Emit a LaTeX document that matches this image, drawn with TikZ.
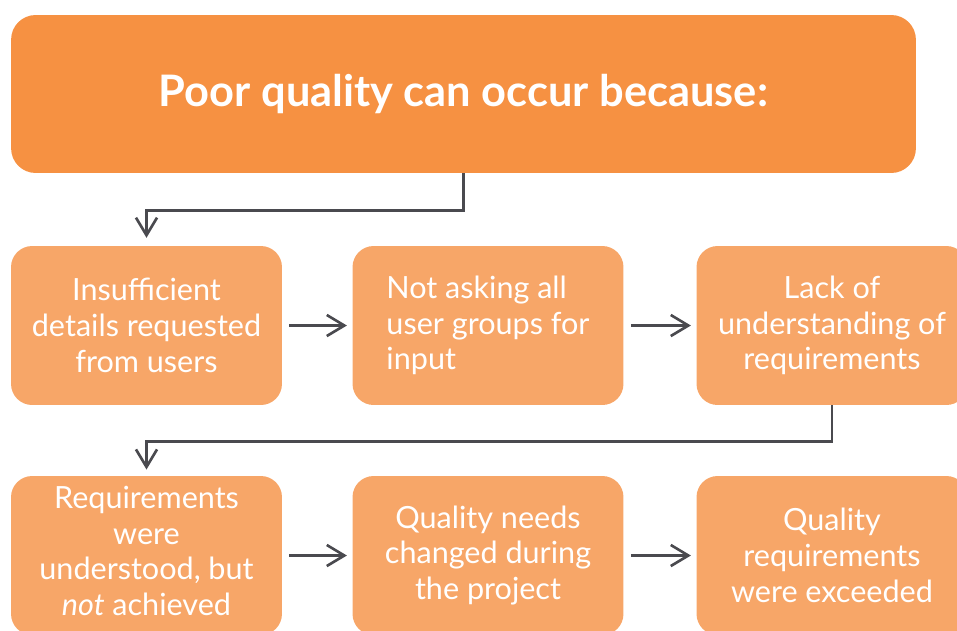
\documentclass[tikz,border=0pt]{standalone}
\usepackage{fontspec}
\setmainfont{Lato}
\usetikzlibrary{arrows.meta, positioning}
\definecolor{titleOrange}{RGB}{246,145,66}
\definecolor{boxOrange}{RGB}{247,166,104}
\definecolor{lineGrey}{RGB}{74,74,79}

\begin{document}
\begin{tikzpicture}[x=0.02cm, y=-0.02cm,
    causeBox/.style={rectangle, rounded corners=12pt, fill=boxOrange, text=white, inner sep=0pt,
        minimum width=5.42cm, minimum height=3.18cm, font=\fontsize{17.4}{20.4}\selectfont},
    flowArrow/.style={draw=lineGrey, line width=1.5pt, -{Straight Barb[length=10pt, width=12pt]}}]
\useasboundingbox (0,0) rectangle (957,630);
\clip (0,0) rectangle (957,630);

\node[rectangle, rounded corners=14pt, fill=titleOrange, text=white, minimum width=18.1cm, minimum height=3.16cm,
    font=\bfseries\fontsize{24.7}{29}\selectfont] (topBox) at (463.5,94) {Poor quality can occur because:};

\node[causeBox, align=center] (insuffBox) at (146.5,325.5) {Insufficient\\details requested\\from users};
\node[causeBox, align=left] (notAskBox) at (488,325.5) {Not asking all\\user groups for\\input};
\node[causeBox, align=center] (lackBox) at (832,325.5) {Lack of\\understanding of\\requirements};

\node[causeBox, align=center] (reqBox) at (146.5,555.5) {};
\node[align=center, text=white, font=\fontsize{17.4}{20.4}\selectfont] (reqText) at (146.5,551) {Requirements\\were\\understood, but\\\textit{not} achieved};
\node[causeBox, align=center] (changeBox) at (488,555.5) {Quality needs\\changed during\\the project};
\node[causeBox, align=center] (exceedBox) at (832,555.5) {Quality\\requirements\\were exceeded};

\draw[flowArrow, shorten >=4.5pt] (topBox.south) -- ++(0,37) -| (insuffBox.north);
\draw[flowArrow, shorten <=4pt, shorten >=3pt] (insuffBox) -- (notAskBox);
\draw[flowArrow, shorten <=4pt, shorten >=3pt] (notAskBox) -- (lackBox);
\draw[flowArrow, shorten >=3.5pt] (lackBox.south) -- ++(0,36) -| (reqBox.north);
\draw[flowArrow, shorten <=4pt, shorten >=3pt] (reqBox) -- (changeBox);
\draw[flowArrow, shorten <=4pt, shorten >=3pt] (changeBox) -- (exceedBox);

\end{tikzpicture}
\end{document}
